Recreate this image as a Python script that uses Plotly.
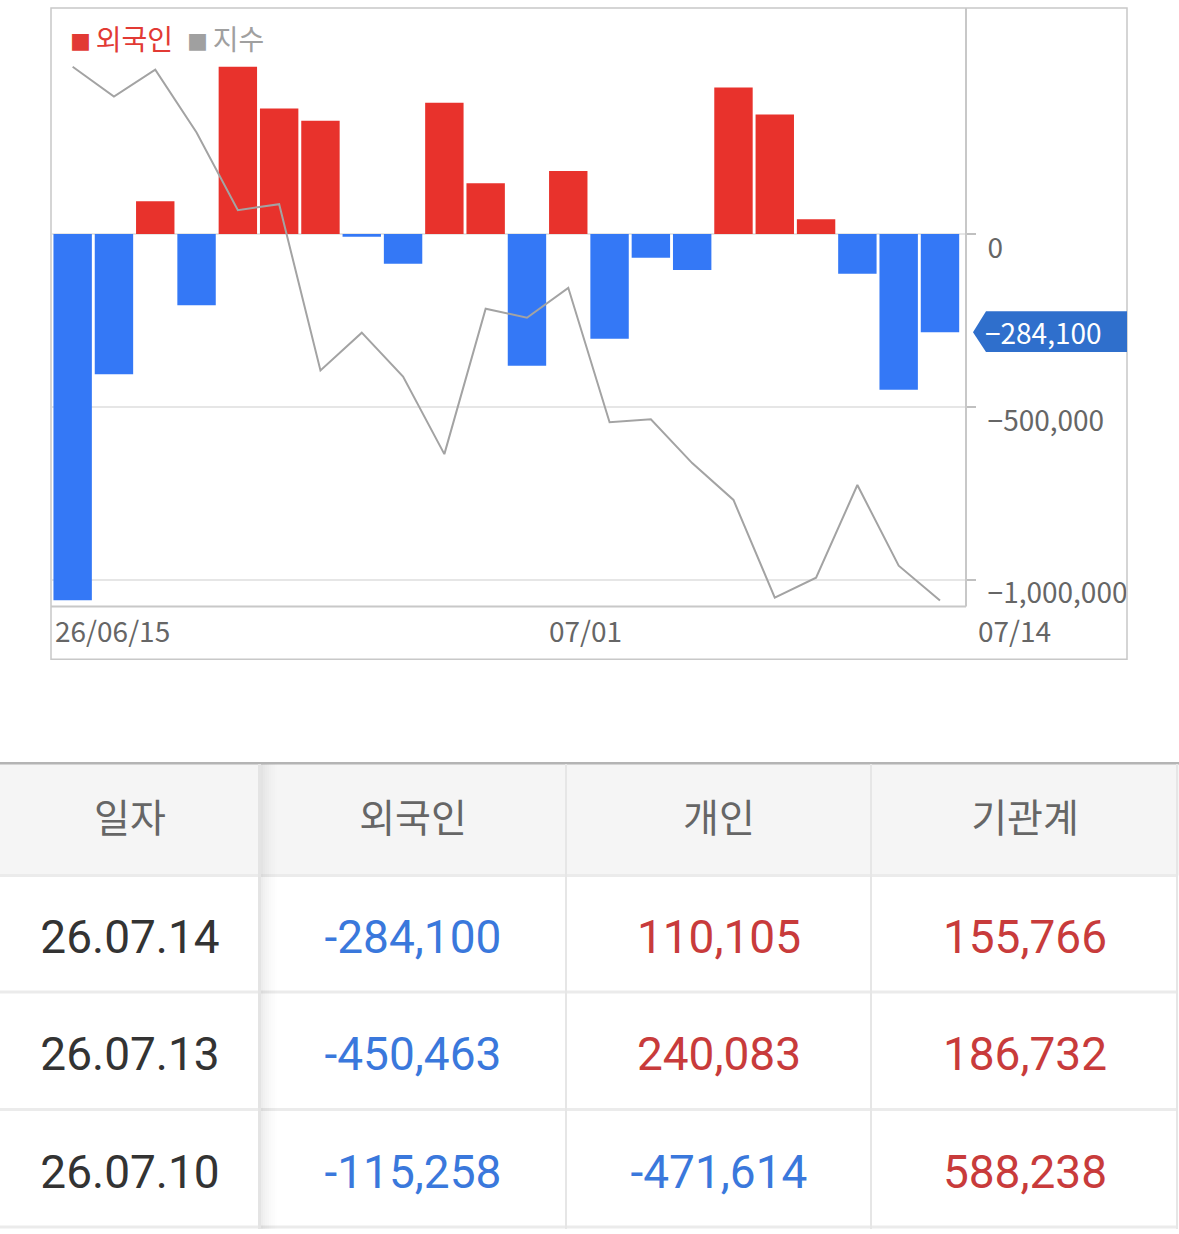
import plotly.graph_objects as go

# chart data (외국인 순매수, 지수)
dates = ["26/06/15", "06/16", "06/17", "06/18", "06/19", "06/22", "06/23", "06/24",
         "06/25", "06/26", "06/29", "06/30", "07/01", "07/02", "07/03", "07/06",
         "07/07", "07/08", "07/09", "07/10", "07/13", "07/14"]
foreign_net = [-1060000, -406000, 95000, -206000, 484000, 363000, 328000, -8000,
               -86000, 380000, 147000, -381000, 182000, -303000, -69000, -104000,
               424000, 346000, 43000, -115258, -450463, -284100]
index_vals = [2870.5, 2855.5, 2869.0, 2837.5, 2798.5, 2801.5, 2718.0, 2737.0,
              2715.0, 2676.0, 2749.0, 2744.5, 2759.5, 2692.0, 2693.5, 2671.5,
              2653.0, 2604.0, 2614.0, 2660.5, 2620.0, 2602.5]
x_labels = ["26/06/15", "07/01", "07/14"]
y_ticks = [0, -500000, -1000000]

# table data
tbl_header = ["일자", "외국인", "개인", "기관계"]
tbl_dates = ["26.07.14", "26.07.13", "26.07.10"]
tbl_foreign = [-284100, -450463, -115258]
tbl_individual = [110105, 240083, -471614]
tbl_institution = [155766, 186732, 588238]

W, H = 1179, 1234
RED = "#e8322c"
BLUE = "#3478f6"
KR = "Noto Sans CJK KR"


def px(x):
    return x / W


def py(y):
    return 1 - y / H


def fmt(v):
    return f"{v:,}"


fig = go.Figure()

fig.add_trace(go.Bar(
    x=dates, y=foreign_net,
    marker=dict(color=[RED if v >= 0 else BLUE for v in foreign_net], line_width=0),
    showlegend=False, hoverinfo="x+y",
))
fig.add_trace(go.Scatter(
    x=dates, y=index_vals, yaxis="y2", mode="lines",
    line=dict(color="#a3a3a3", width=2),
    showlegend=False,
))

# table text via scatter on its own axes
col_x = [130, 413, 719, 1025]
head_y = 826
row_y = [945, 1063, 1181]


def num_color(v):
    return "#3a78dc" if v < 0 else "#c83b3b"


fig.add_trace(go.Scatter(
    x=col_x, y=[head_y] * 4, text=tbl_header, mode="text",
    textfont=dict(family=KR, size=39, color="#666666"),
    xaxis="x3", yaxis="y3", showlegend=False, hoverinfo="skip",
))
fig.add_trace(go.Scatter(
    x=[col_x[0]] * 3, y=row_y, text=tbl_dates, mode="text",
    textfont=dict(family="Roboto", size=46, color="#333333"),
    xaxis="x3", yaxis="y3", showlegend=False, hoverinfo="skip",
))
for ci, col in zip(col_x[1:], [tbl_foreign, tbl_individual, tbl_institution]):
    fig.add_trace(go.Scatter(
        x=[ci] * 3, y=row_y, text=[fmt(v) for v in col], mode="text",
        textfont=dict(family="Roboto", size=46, color=[num_color(v) for v in col]),
        xaxis="x3", yaxis="y3", showlegend=False, hoverinfo="skip",
    ))

shapes = []
# chart frame
grey = "#c8c8c8"
shapes.append(dict(type="rect", xref="paper", yref="paper",
                   x0=px(51), x1=px(1127), y0=py(662), y1=py(8),
                   line=dict(color=grey, width=1.5)))
shapes.append(dict(type="line", xref="paper", yref="paper",
                   x0=px(966), x1=px(966), y0=py(609), y1=py(8),
                   line=dict(color=grey, width=2)))
shapes.append(dict(type="line", xref="paper", yref="paper",
                   x0=px(51), x1=px(966), y0=py(609), y1=py(609),
                   line=dict(color=grey, width=2)))

# callout tag for the last value
last = foreign_net[-1]
y_top = last + 21 * 2882
y_bot = last - 20 * 2882
shapes.append(dict(
    type="path", xref="paper", yref="y",
    path=(f"M {px(973)},{last} L {px(986)},{y_top} L {px(1127)},{y_top} "
          f"L {px(1127)},{y_bot} L {px(986)},{y_bot} Z"),
    fillcolor="#2f6fcc", line=dict(width=0),
))

# table backgrounds and lines
shapes.append(dict(type="rect", xref="x3", yref="y3", x0=0, x1=1179, y0=766, y1=879,
                   fillcolor="#f5f5f5", line=dict(width=0), layer="below"))
for yl in [879, 996, 1114, 1232]:
    shapes.append(dict(type="line", xref="x3", yref="y3", x0=0, x1=1177, y0=yl, y1=yl,
                       line=dict(color="#ebebeb", width=3)))
shapes.append(dict(type="line", xref="x3", yref="y3", x0=0, x1=1179, y0=766, y1=766,
                   line=dict(color="#b4b4b4", width=3)))
for xl in [566, 871, 1177]:
    shapes.append(dict(type="line", xref="x3", yref="y3", x0=xl, x1=xl, y0=767, y1=1234,
                       line=dict(color="#e6e6e6", width=2)))
# divider and soft shadow right of first column
shapes.append(dict(type="line", xref="x3", yref="y3", x0=259.5, x1=259.5, y0=767, y1=1234,
                   line=dict(color="#e4e4e4", width=3)))
for i, op in enumerate([0.07, 0.055, 0.045, 0.035, 0.025, 0.017, 0.01, 0.005]):
    shapes.append(dict(type="rect", xref="x3", yref="y3", x0=261 + i * 2, x1=263 + i * 2,
                       y0=767, y1=1234, fillcolor="#000000", opacity=op, line=dict(width=0)))

annotations = []
# legend
annotations.append(dict(xref="paper", yref="paper", x=px(68), y=py(38), xanchor="left",
                        yanchor="middle", showarrow=False,
                        text='<span style="font-size:21px">■ </span>외국인',
                        font=dict(family=KR, size=28, color="#e23a34")))
annotations.append(dict(xref="paper", yref="paper", x=px(185), y=py(38), xanchor="left",
                        yanchor="middle", showarrow=False,
                        text='<span style="font-size:21px">■ </span>지수',
                        font=dict(family=KR, size=28, color="#a0a0a0")))
# x labels
xl_font = dict(family=KR, size=28, color="#666666")
annotations.append(dict(xref="x", yref="paper", x=x_labels[0], y=py(633), xanchor="left",
                        xshift=-20, yanchor="middle", showarrow=False, text=x_labels[0],
                        font=xl_font))
annotations.append(dict(xref="x", yref="paper", x=x_labels[1], y=py(633), xanchor="left",
                        xshift=-21, yanchor="middle", showarrow=False, text=x_labels[1],
                        font=xl_font))
annotations.append(dict(xref="paper", yref="paper", x=px(976), y=py(633), xanchor="left",
                        yanchor="middle", showarrow=False, text=x_labels[2],
                        font=xl_font))
# callout text
annotations.append(dict(xref="paper", yref="y", x=px(983), y=last, xanchor="left",
                        yanchor="middle", showarrow=False, text="\u2212" + fmt(-last),
                        font=dict(family=KR, size=28, color="#ffffff")))

fig.update_layout(
    width=W, height=H,
    margin=dict(l=0, r=0, t=0, b=0),
    paper_bgcolor="#ffffff", plot_bgcolor="#ffffff",
    bargap=0.07,
    xaxis=dict(domain=[px(52), px(966)], type="category", range=[-0.5, 21.63],
               showticklabels=False, showgrid=False, zeroline=False, fixedrange=True),
    yaxis=dict(domain=[py(609), py(8)], range=[-1078000, 654000], side="right",
               tickvals=y_ticks,
               ticktext=["0" if v == 0 else "\u2212" + fmt(-v) for v in y_ticks],
               ticks="outside", ticklen=9, tickwidth=2, tickcolor="#c0c0c0",
               ticklabelshift=14, ticklabelstandoff=6,
               tickfont=dict(family=KR, size=28, color="#666666"),
               showgrid=True, gridcolor="#e6e6e6", gridwidth=2, zeroline=False),
    yaxis2=dict(overlaying="y", range=[2599.5, 2900], visible=False),
    xaxis3=dict(domain=[0, 1], range=[0, W], visible=False, fixedrange=True),
    yaxis3=dict(domain=[0, py(765)], range=[H, 765], visible=False, fixedrange=True),
    shapes=shapes,
    annotations=annotations,
)

page_fix = (
    "var st=document.createElement('style');"
    "st.textContent='html,body{margin:0;padding:0;overflow:hidden;height:1234px;}';"
    "document.head.appendChild(st);"
    "var g=document.getElementById('{plot_id}');"
    "g.parentElement.style.height='1234px';"
    "g.parentElement.style.overflow='hidden';"
)
fig.write_html("out.html", config={"displayModeBar": False}, post_script=page_fix)
